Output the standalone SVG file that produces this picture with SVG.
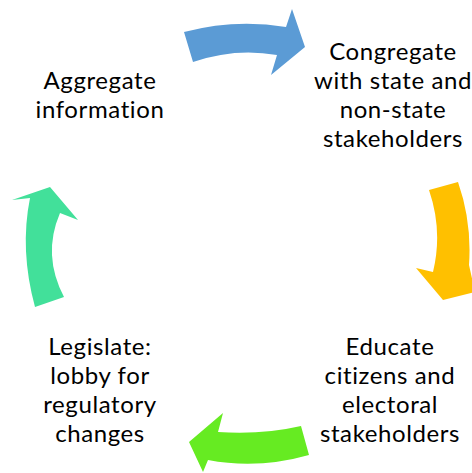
<svg xmlns="http://www.w3.org/2000/svg" width="472" height="473" viewBox="0 0 472 473">
  <style>
    .label { font-family: Lato, "Open Sans", "DejaVu Sans", sans-serif; font-size: 24px; letter-spacing: 0.6px; fill: #000000; text-anchor: middle; }
    .blue { fill: #5B9BD5; }
    .yellow { fill: #FFC000; }
    .green { fill: #66EB22; }
    .teal { fill: #42E09A; }
  </style>
  <rect width="472" height="473" fill="#FFFFFF"/>

  <!-- curved cycle arrows -->
  <g id="connectors">
    <path class="blue" d="M184,32 Q235,18.5 286,27 L292,9 L305,47 L271,75 L277,55 Q235,47.5 193,62 Z"/>
    <path class="yellow" d="M429,190 Q443,231 433,272 L416,268 L443,300 L475,292 L469,265 Q472,222 458,182 Z"/>
    <path class="green" d="M301,426 Q262,435 218,432 L223,413 L189,442 L203,472 L208,460 Q258,469.5 309,455 Z"/>
    <path class="teal" d="M35,307 Q19.5,250 30,198 L12,200 L50,187 L78,220 L60,213 Q42,255 64,297 Z"/>
  </g>

  <!-- each label is one text block; lines are tspans 29px apart -->
  <g id="node-aggregate">
    <text class="label" x="100" y="89">Aggregate<tspan x="100" dy="29">information</tspan></text>
  </g>

  <g id="node-congregate">
    <text class="label" x="393" y="60">Congregate<tspan x="393" dy="29">with state and</tspan><tspan x="393" dy="29">non-state</tspan><tspan x="393" dy="29">stakeholders</tspan></text>
  </g>

  <g id="node-educate">
    <text class="label" x="390" y="355">Educate<tspan x="390" dy="29">citizens and</tspan><tspan x="390" dy="29">electoral</tspan><tspan x="390" dy="29">stakeholders</tspan></text>
  </g>

  <g id="node-legislate">
    <text class="label" x="100" y="355">Legislate:<tspan x="100" dy="29">lobby for</tspan><tspan x="100" dy="29">regulatory</tspan><tspan x="100" dy="29">changes</tspan></text>
  </g>
</svg>
